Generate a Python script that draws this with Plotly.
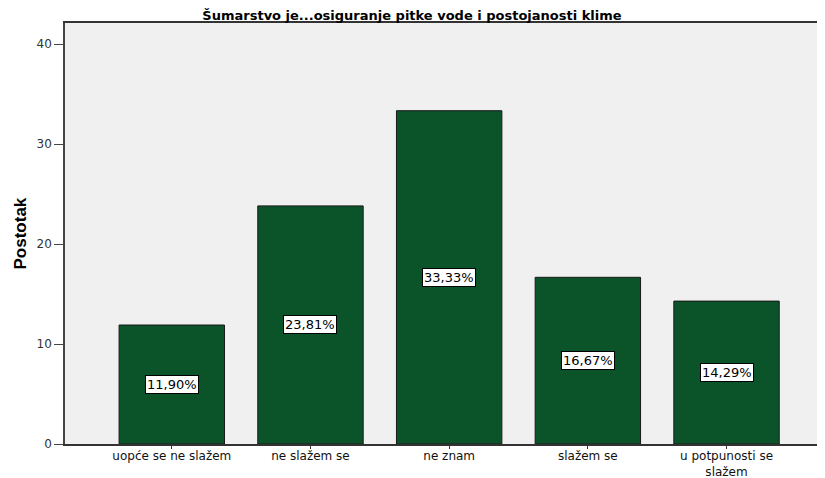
import plotly.graph_objects as go

categories = ["uopće se ne slažem", "ne slažem se", "ne znam", "slažem se", "u potpunosti se<br>slažem"]
values = [11.90, 23.81, 33.33, 16.67, 14.29]
labels = ["11,90%", "23,81%", "33,33%", "16,67%", "14,29%"]
y_ticks = [0, 10, 20, 30, 40]

FONT = "DejaVu Sans, Arial, sans-serif"
# the page body has an 8px margin; the figure is sized so the plot lands where the reference's does
W, H = 817, 470

fig = go.Figure()
fig.add_trace(go.Bar(
    x=list(range(len(categories))), y=values,
    width=0.76,
    marker=dict(color="#0b5329", line=dict(color="#1a1a1a", width=1)),
    hoverinfo="skip",
))

for i, (v, lab) in enumerate(zip(values, labels)):
    fig.add_annotation(
        x=i, y=v / 2, text=lab, showarrow=False,
        font=dict(family=FONT, size=13, color="black"),
        bgcolor="white", bordercolor="black", borderwidth=1, borderpad=1,
    )

fig.add_annotation(
    xref="paper", yref="paper", x=0, y=0.5, xshift=-45, xanchor="center", yanchor="middle",
    text="<b>Postotak</b>", textangle=-90, showarrow=False,
    font=dict(family="Liberation Sans Narrow, Arial Narrow, Arial, sans-serif", size=17, color="black"),
)

fig.update_layout(
    width=W, height=H,
    margin=dict(l=57, r=0, t=15, b=34),
    paper_bgcolor="white", plot_bgcolor="#f0f0f0",
    showlegend=False,
    title=dict(
        text="<b>Šumarstvo je...osiguranje pitke vode i postojanosti klime</b>",
        x=(412 - 8) / W, xref="container", xanchor="center",
        y=1 - 7 / H, yref="container", yanchor="middle",
        font=dict(family=FONT, size=13, color="black"),
    ),
    font=dict(family=FONT, size=12, color="#222"),
)

fig.update_xaxes(
    range=[-0.77, 4.71], automargin=False,
    tickmode="array", tickvals=list(range(len(categories))), ticktext=categories,
    ticks="outside", ticklen=3, tickcolor="#333", tickwidth=1,
    ticklabelstandoff=-3,
    showline=True, linecolor="#333", linewidth=1.5, mirror=True,
    showgrid=False, zeroline=False,
    tickfont=dict(family=FONT, size=12, color="#111"),
)
fig.update_yaxes(
    range=[0, 42.1], automargin=False,
    tickmode="array", tickvals=y_ticks,
    ticks="outside", ticklen=9, tickcolor="#444", tickwidth=1,
    showline=True, linecolor="#444", linewidth=1.5, mirror=True,
    showgrid=False, zeroline=False,
    tickfont=dict(family=FONT, size=12, color="#333"),
)

fig.write_html("out.html")
